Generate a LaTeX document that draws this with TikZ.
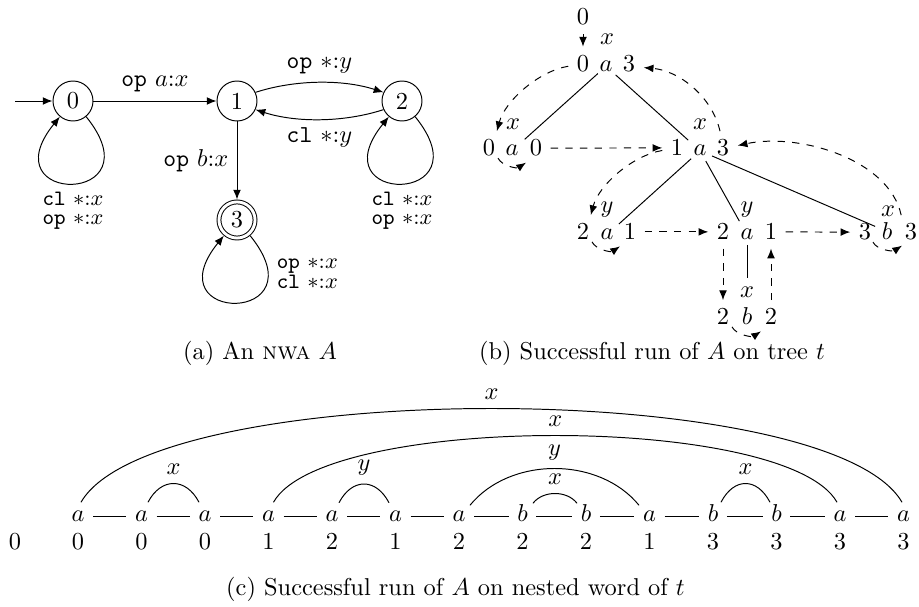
\documentclass[tikz,border=0pt]{standalone}
\usetikzlibrary{arrows.meta,calc}
\begin{document}
\begin{tikzpicture}[x=0.41pt, y=-0.41pt,
  st/.style={circle, draw, minimum size=16.4pt, inner sep=0pt},
  acc/.style={circle, draw, double, double distance=1.2pt, minimum size=14.8pt, inner sep=0pt, outer sep=1pt},
  tip/.style={-{Latex[length=4pt,width=3.2pt]}},
  run/.style={dashed, tip},
  dg/.style={anchor=base},
  lt/.style={anchor=base},
  lb/.style={anchor=base, inner sep=0pt},
  wl/.style={anchor=base, text height=4.3pt, text depth=0pt},
  looplab/.style={font=\small, align=center}]
\useasboundingbox (0,0) rectangle (919,607);

% ---------- (a) automaton ----------
\node[st] (q0) at (73,101) {0};
\node[st] (q1) at (237,101) {1};
\node[st] (q2) at (402,101) {2};
\node[acc] (q3) at (237,220) {3};
\coordinate (init) at (15,101);

\draw[tip] (init) -- (q0);
\draw[tip] (q0) -- node[above] {\texttt{op} $a$:$x$} (q1);
\draw[tip] (q1.25) .. controls +(40,-13) and +(-40,-13) .. (q2.155)
  node[midway, above] {\texttt{op} $*$:$y$};
\draw[tip] (q2.205) .. controls +(-40,13) and +(40,13) .. (q1.-25)
  node[midway, below] {\texttt{cl} $*$:$y$};
\draw[tip] (q1) -- node[left] {\texttt{op} $b$:$x$} (q3);
\draw[tip] (q0.-50) .. controls +(72,89) and +(-72,89) .. (q0.-130)
  node[midway, below, looplab] {\texttt{cl} $*$:$x$\\[-3pt]\texttt{op} $*$:$x$};
\draw[tip] (q2.-50) .. controls +(72,89) and +(-72,89) .. (q2.-130)
  node[midway, below, looplab] {\texttt{cl} $*$:$x$\\[-3pt]\texttt{op} $*$:$x$};
\draw[tip] (q3.-50) .. controls +(72,89) and +(-72,89) .. (q3.-130)
  node[pos=0.17, right, looplab] {\texttt{op} $*$:$x$\\[-3pt]\texttt{cl} $*$:$x$};

\node[anchor=base] (capa) at (260,360) {(a) An \textsc{nwa} $A$};

% ---------- (b) run on tree ----------
\node[dg] (r0) at (583,25) {0};
\node[dg] (tq) at (583,71.5) {0};
\node[lt] (ta) at (606,71.5) {$a$};
\node[dg] (tr) at (629,71.5) {3};
\node[lb] (tx) at (607,45) {$x$};

\node[dg] (lq) at (489,156) {0};
\node[lt] (la) at (512,156) {$a$};
\node[dg] (lr) at (536,156) {0};
\node[lb] (lx) at (513,129.5) {$x$};

\node[dg] (mq) at (677,156) {1};
\node[lt] (ma) at (700,156) {$a$};
\node[dg] (mr) at (723,156) {3};
\node[lb] (mx) at (700,129.5) {$x$};

\node[dg] (Aq) at (583,240) {2};
\node[lt] (Aa) at (607,240) {$a$};
\node[dg] (Ar) at (630,240) {1};
\node[lb] (Ay) at (607,212.5) {$y$};

\node[dg] (Bq) at (723,240) {2};
\node[lt] (Ba) at (747,240) {$a$};
\node[dg] (Br) at (771,240) {1};
\node[lb] (By) at (747,212.5) {$y$};

\node[dg] (Cq) at (865,240) {3};
\node[lt] (Cb) at (887,240) {$b$};
\node[dg] (Cr) at (911,240) {3};
\node[lb] (Cx) at (888,217) {$x$};

\node[dg] (Dq) at (723,325) {2};
\node[lt] (Db) at (747,325) {$b$};
\node[dg] (Dr) at (771,325) {2};
\node[lb] (Dx) at (747,298) {$x$};

\draw[shorten <=4.5pt, shorten >=7pt] (ta.center) -- (la.center);
\draw[shorten <=5.3pt, shorten >=6.5pt] (ta.center) -- (ma.center);
\draw[shorten <=4.9pt, shorten >=6.6pt] (ma.center) -- (Aa.center);
\draw[shorten <=4.9pt, shorten >=6.4pt] (ma.center) -- (Ba.center);
\draw[shorten <=5.4pt, shorten >=5.3pt] (ma.center) -- (Cb.center);
\draw[shorten <=4.2pt, shorten >=15.8pt] (Ba.center) -- (Db.center);

\draw[run] (r0) -- (tq);
\draw[run] (tq.190) .. controls +(-30,5) and +(8,-30) .. (lq.65);
\draw[run] ($(lq.center)+(9,10)$) .. controls +(4,8) and +(-9,6) .. ($(lr.center)+(-10,14.5)$);
\draw[run] (lr) -- (mq);
\draw[run] (mq.190) .. controls +(-30,5) and +(8,-30) .. (Aq.65);
\draw[run] ($(Aq.center)+(9,10)$) .. controls +(4,8) and +(-9,6) .. ($(Ar.center)+(-10,14.5)$);
\draw[run] (Ar) -- (Bq);
\draw[run] (Bq) -- (Dq);
\draw[run] ($(Dq.center)+(9,10)$) .. controls +(4,8) and +(-9,6) .. ($(Dr.center)+(-10,14.5)$);
\draw[run] (Dr) -- (Br);
\draw[run] (Br) -- (Cq);
\draw[run] ($(Cq.center)+(8,10)$) .. controls +(4,8) and +(-9,6) .. ($(Cr.center)+(-9,13.5)$);
\draw[run] (Cr.120) .. controls +(-12,-56) and +(61,-13) .. (mr.10);
\draw[run] (mr.100) .. controls +(-8,-35) and +(35,3) .. (tr.-15);

\node[anchor=base] (capb) at (652,360) {(b) Successful run of $A$ on tree $t$};

% ---------- (c) run on nested word ----------
\foreach \l [count=\i from 0] in {a,a,a,a,a,a,a,b,b,a,b,b,a,a}
  \node[wl] (l\i) at ({78+63.5*\i},521.5) {$\l$};
\foreach \i [count=\j from 1] in {0,...,12}
  \draw (l\i) -- (l\j);
\node[dg] (n0) at (15,549.5) {0};
\foreach \v [count=\i from 1] in {0,0,0,1,2,1,2,2,2,1,3,3,3,3}
  \node[dg] (n\i) at ({78+63.5*(\i-1)},549.5) {\v};

\draw ($(l0.center)+(3,-14)$) .. controls +(72,-125) and +(-72,-125) .. ($(l13.center)+(-1.5,-14)$)
  node[midway, above] {$x$};
\draw ($(l3.center)+(5,-14)$) .. controls +(50,-89) and +(-50,-89) .. ($(l12.center)+(-3,-14)$)
  node[midway, above] {$x$};
\draw ($(l6.center)+(11,-11)$) .. controls +(40,-49) and +(-40,-49) .. ($(l9.center)+(-10.5,-11)$)
  node[midway, above] {$y$};
\draw ($(l1.center)+(6.5,-14)$) .. controls +(13,-25) and +(-13,-25) .. ($(l2.center)+(-6,-14)$)
  node[midway, above] {$x$};
\draw ($(l4.center)+(7,-13.5)$) .. controls +(13,-25) and +(-13,-25) .. ($(l5.center)+(-6.5,-13.5)$)
  node[midway, above] {$y$};
\draw ($(l7.center)+(10.5,-13)$) .. controls +(10,-13) and +(-10,-13) .. ($(l8.center)+(-9,-13)$)
  node[midway, above] {$x$};
\draw ($(l10.center)+(8,-14)$) .. controls +(13,-25) and +(-13,-25) .. ($(l11.center)+(-6.5,-14)$)
  node[midway, above] {$x$};

\node[anchor=base] (capc) at (455.5,595.5) {(c) Successful run of $A$ on nested word of $t$};
\end{tikzpicture}
\end{document}
